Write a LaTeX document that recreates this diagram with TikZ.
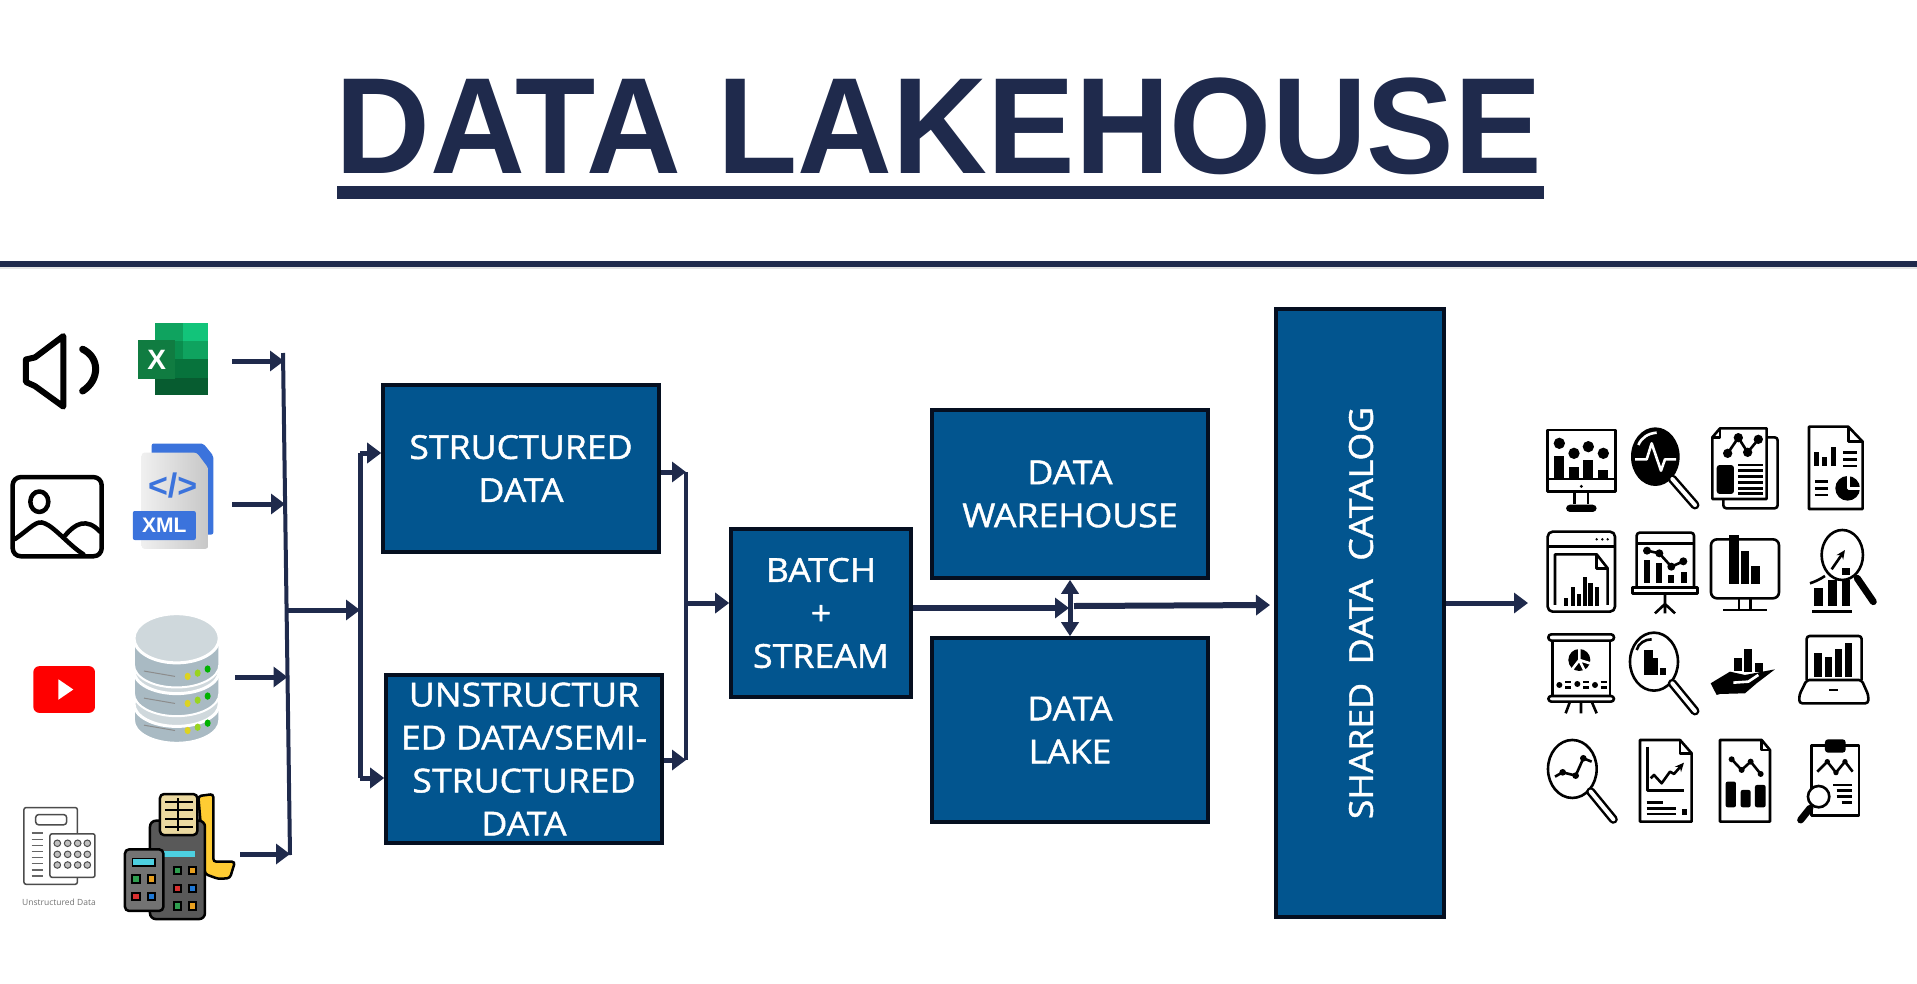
\documentclass[tikz,border=0pt]{standalone}
\usepackage{fontspec}
\setsansfont{Open Sans}
\newfontfamily\titlefont{Liberation Sans}
\newfontfamily\boxfont[FakeBold=1.3,FakeStretch=1.08]{Open Sans}
\usetikzlibrary{arrows.meta, positioning}
\definecolor{navyline}{HTML}{1F2A4C}
\definecolor{boxblue}{HTML}{02558F}
\definecolor{boxedge}{HTML}{050F20}
\definecolor{dbgray}{HTML}{A9BAC3}
\definecolor{dblight}{HTML}{CFD8DC}
\definecolor{papertan}{HTML}{EBD9A0}
\definecolor{rollyellow}{HTML}{FFCC33}
\definecolor{keycyan}{HTML}{4DD0E1}
\definecolor{keygreen}{HTML}{2E9E4F}
\definecolor{keyyellow}{HTML}{E8A020}
\definecolor{keyred}{HTML}{D83030}
\definecolor{keyblue}{HTML}{1E78D5}
\definecolor{xmlblue}{HTML}{3B73DC}
\definecolor{xlone}{HTML}{12C47A}
\definecolor{xltwo}{HTML}{0FA35F}
\definecolor{xlthree}{HTML}{0A8E4E}
\definecolor{xlfour}{HTML}{07733C}
\definecolor{xlfive}{HTML}{075C30}
\definecolor{xlmark}{HTML}{107C41}

\newcommand{\iconbars}[1]{\foreach \xa/\ya/\xb/\yb in {#1} {\fill (\xa,\ya) rectangle (\xb,\yb);}}
\newcommand{\icondots}[2]{\foreach \cx/\cy in {#2} {\fill (\cx,\cy) circle[radius=#1];}}
\newcommand{\iconrules}[3]{\foreach \ry in {#1} {\draw (#2,\ry) -- (#3,\ry);}}
\newcommand{\iconhandle}[2]{\draw[line width=9pt, line cap=round] #1 -- #2; \draw[white, line width=4pt, line cap=round] #1 -- #2;}

\begin{document}
\begin{tikzpicture}[
    x=1pt, y=-1pt,
    databox/.style = {rectangle, draw=boxedge, fill=boxblue, line width=3.6pt, align=center, text=white, inner sep=0pt, font=\boxfont\fontsize{33}{43}\selectfont},
    arrow/.style = {draw=navyline, -{Triangle[length=14pt,width=20pt]}, line width=5pt},
    fatarrow/.style = {draw=navyline, -{Triangle[length=14pt,width=20pt]}, line width=6pt},
    busline/.style = {draw=navyline, line width=4pt},
    iconline/.style = {line width=2.6pt, line join=round},
    boldline/.style = {line width=6pt, line join=round, line cap=round}
]
\useasboundingbox (0,0) rectangle (1917,983);
\fill[white] (0,0) rectangle (1917,983);

% Title and header rule
\node (title) [font=\titlefont\bfseries\fontsize{137}{137}\selectfont, text=navyline, inner sep=0pt, xscale=0.959] at (939,126) {DATA LAKEHOUSE};
\coordinate (ulineleft) at (337,192.5);
\coordinate (ulineright) at (1544,192.5);
\draw [navyline, line width=13pt] (ulineleft) -- (ulineright);
\coordinate (ruleleft) at (0,263.5);
\coordinate (ruleright) at (1917,263.5);
\draw [black!10, line width=4pt] ([yshift=-3pt]ruleleft) -- ([yshift=-3pt]ruleright);
\draw [navyline, line width=6pt] (ruleleft) -- (ruleright);

% Boxes
\node (structured) [databox, minimum width=276pt, minimum height=167pt] at (521,468.5) {STRUCTURED\\DATA};
\node (unstructured) [databox, minimum width=276pt, minimum height=168pt] at (524,759) {UNSTRUCTUR\\ED DATA/SEMI-\\STRUCTURED\\DATA};
\node (batch) [databox, minimum width=180pt, minimum height=168pt] at (821,613) {BATCH\\+\\STREAM};
\node (warehouse) [databox, minimum width=276pt, minimum height=168pt] at (1070,494) {DATA\\WAREHOUSE};
\node (lake) [databox, minimum width=276pt, minimum height=184pt] at (1070,730) {DATA\\LAKE};
\node (catalog) [databox, minimum width=168pt, minimum height=608pt] at (1360,613) {};
\node (catalogtext) [font=\boxfont\fontsize{33}{43}\selectfont, text=white, rotate=90, inner sep=0pt] at (1361,613) {SHARED\ \ DATA\ \ CATALOG};

% Input buses
\coordinate (src1) at (232,361);
\coordinate (src2) at (232,504);
\coordinate (src3) at (235,677);
\coordinate (src4) at (240,854);
\coordinate (bustop) at (283,353);
\coordinate (busbot) at (290,855);
\coordinate (busa) at (284,361);
\coordinate (busb) at (285,504);
\coordinate (busc) at (287.5,677);
\coordinate (busd) at (290,854);
\coordinate (busmid) at (287,610);
\coordinate (forkmid) at (360,610);
\coordinate (forktop) at (360,453);
\coordinate (forkbot) at (360,778);
\coordinate (joinmid) at (686,603);
\coordinate (jointop) at (686,472);
\coordinate (joinbot) at (686,760);

\draw [busline] (bustop) -- (busbot);
\draw [arrow] (src1) -- (busa);
\draw [arrow] (src2) -- (busb);
\draw [arrow] (src3) -- (busc);
\draw [arrow] (src4) -- (busd);
\draw [arrow] (busmid) -- (forkmid);
\draw [busline, line width=5pt] (forktop) -- (forkbot);
\draw [arrow] (forktop) -- (forktop -| structured.west);
\draw [arrow] (forkbot) -- (forkbot -| unstructured.west);

\draw [busline] (jointop) -- (joinbot);
\draw [arrow] (jointop -| structured.east) -- (jointop);
\draw [arrow] (joinbot -| unstructured.east) -- (joinbot);
\draw [arrow] (joinmid) -- (joinmid -| batch.west);

% Storage connections
\coordinate (split) at (1069,608);
\coordinate (splitout) at (1074,606);
\coordinate (catalogin) at (1270,605);
\draw [fatarrow] (batch.east |- split) -- (split);
\draw [draw=navyline, {Triangle[length=14pt,width=17pt]}-{Triangle[length=14pt,width=17pt]}, line width=5pt] (warehouse.south) -- (lake.north);
\draw [fatarrow] (splitout) -- (catalogin);
\coordinate (output) at (1528,603);
\draw [arrow] (catalog.east |- output) -- (output);

% Source icons, in a squeezed grid
\begin{scope}[shift={(0,300)}, x=0.3333pt, y=-0.41pt]
% speaker
\draw[boldline] (190,88) -- (105,140) -- (78,145) -- (78,200) -- (105,210) -- (190,260) -- cycle;
\draw[boldline, line width=7pt] (248,120) .. controls (300,140) and (300,195) .. (248,222);
% excel
\fill[xltwo] (465,57) rectangle (548,100);
\fill[xlone] (548,57) rectangle (625,100);
\fill[xlthree] (465,100) rectangle (548,145);
\fill[xltwo] (548,100) rectangle (625,145);
\fill[xlfour] (465,145) rectangle (548,232);
\fill[xlfour] (548,145) rectangle (625,190);
\fill[xlfive] (465,190) rectangle (625,232);
\node (excelmark) [fill=xlmark, minimum width=37pt, minimum height=39pt, inner sep=0pt, text=white, font=\titlefont\bfseries\fontsize{28}{28}\selectfont] at (470,145) {X};
% picture
\draw[boldline, line width=4.5pt, rounded corners=8pt] (38,432) rectangle (305,625);
\draw[boldline, line width=4.5pt] (118,492) ellipse [x radius=27, y radius=25];
\draw[boldline, line width=4.5pt] (45,583) .. controls (95,555) and (110,535) .. (135,545) .. controls (165,555) and (210,600) .. (250,620);
\draw[boldline, line width=4.5pt] (195,575) .. controls (225,545) and (260,530) .. (300,565);
% xml
\fill[xmlblue, rounded corners=2pt] (455,350) -- (610,350) -- (640,380) -- (640,572) -- (455,572) -- cycle;
\shade[left color=black!6, right color=black!22, rounded corners=3pt] (425,372) -- (590,372) -- (625,410) -- (625,607) -- (425,607) -- cycle;
\node (xmltag) [text=xmlblue, inner sep=0pt, font=\titlefont\bfseries\fontsize{34}{34}\selectfont] at (518,452) {</>};
\node (xmlbadge) [fill=xmlblue, rounded corners=2pt, text=white, minimum width=63pt, minimum height=29pt, inner sep=0pt, font=\titlefont\bfseries\fontsize{21}{21}\selectfont] at (493,550) {XML};
% video
\fill[red, rounded corners=6pt] (100,893) rectangle (285,1007);
\fill[white] (175,925) -- (220,950) -- (175,975) -- cycle;
% database
\foreach \cy/\hgt in {985/40, 905/55, 825/65} {
  \fill[dbgray, draw=white, line width=2pt] (402,\cy) -- (402,\cy+\hgt) arc[start angle=180, end angle=360, x radius=128, y radius=-55] -- (658,\cy) -- cycle;
  \fill[dblight, draw=white, line width=3pt] (530,\cy) ellipse [x radius=128, y radius=55];
}
\fill[dblight, draw=white, line width=3pt] (530,825) ellipse [x radius=128, y radius=60];
\foreach \dy in {0,66,132} {
  \fill[yellow!85!black] (563,918+\dy) ellipse [x radius=9, y radius=9];
  \fill[yellow!60!green] (593,910+\dy) ellipse [x radius=9, y radius=9];
  \fill[green!70!black] (623,900+\dy) ellipse [x radius=9, y radius=9];
  \draw[black!45, line width=1pt] (432,905+\dy) -- (525,918+\dy);
}
% form
\draw[black!70, line width=1.5pt, rounded corners=2pt, fill=white] (72,1238) rectangle (232,1425);
\draw[black!70, line width=1.5pt, rounded corners=3pt] (107,1255) rectangle (200,1280);
\foreach \ly in {1300,1315,...,1405} {\draw[black!60, line width=1.3pt] (95,\ly) -- (130,\ly);}
\draw[black!70, line width=1.5pt, fill=white, rounded corners=2pt] (150,1302) rectangle (285,1408);
\foreach \ly in {1325,1352,1378} {
  \foreach \lx in {172,203,233,262} {\draw[black!70, fill=black!25, line width=1pt] (\lx,\ly) ellipse [x radius=10, y radius=8];}
}
\node (formcaption) [text=black!55, inner sep=0pt, font=\sffamily\fontsize{8.5}{9}\selectfont] at (177,1470) {Unstructured Data};
% till
\draw[line width=2.5pt, fill=rollyellow, rounded corners=3pt] (595,1210) -- (640,1205) -- (640,1370) -- (705,1370) -- (690,1410) -- (655,1412) -- (615,1400) -- cycle;
\draw[line width=2.5pt, fill=black!65, rounded corners=6pt] (450,1270) rectangle (615,1510);
\draw[line width=2.5pt, fill=papertan, rounded corners=4pt] (480,1205) rectangle (592,1305);
\foreach \ly in {1225,1245,1265,1285} {\draw[line width=2pt] (495,\ly) -- (578,\ly);}
\draw[line width=2pt] (535,1215) -- (535,1295);
\fill[keycyan] (492,1345) rectangle (585,1358);
\foreach \kx/\ky/\kc in {533/1392/keygreen, 578/1392/keyyellow, 533/1435/keyred, 578/1435/keyblue, 533/1478/keygreen, 578/1478/keyyellow} {
  \draw[line width=2pt, fill=\kc] (\kx-10,\ky-9) rectangle (\kx+10,\ky+9);
}
\draw[line width=2.5pt, fill=black!55, rounded corners=4pt] (375,1340) rectangle (490,1490);
\draw[line width=1.5pt, fill=keycyan] (397,1362) rectangle (465,1380);
\foreach \kx/\ky/\kc in {408/1412/keygreen, 455/1412/keyyellow, 408/1455/keyred, 455/1455/keyblue} {
  \draw[line width=2pt, fill=\kc] (\kx-11,\ky-9) rectangle (\kx+11,\ky+9);
}
\end{scope}

% Report icons, in a 3x grid
\begin{scope}[shift={(1500,400)}, x=0.3333pt, y=-0.3333pt, iconline]
% row 1
\draw (142,90) rectangle (346,275);
\draw (142,237) -- (346,237);
\icondots{17}{178/130, 222/160, 265/140, 310/160}
\iconbars{163/168/193/237, 207/200/237/237, 250/180/280/237, 295/210/325/237}
\icondots{5}{244/259}
\draw (224,275) -- (224,312) (264,275) -- (264,312);
\fill[rounded corners=4pt] (198,336) rectangle (290,314);

\fill (466,170) ellipse [x radius=73, y radius=88];
\draw[white] (405,178) -- (440,178) -- (455,130) -- (483,212) -- (495,178) -- (528,178);
\draw[white] (415,135) .. controls (425,112) and (445,100) .. (470,98);
\iconhandle{(517,237)}{(585,315)}

\draw[rounded corners=3pt] (670,112) -- (833,112) -- (833,325) -- (670,325) -- cycle;
\draw[fill=white] (660,85) -- (800,85) -- (800,297) -- (637,297) -- (637,112) -- cycle;
\draw (660,85) -- (660,112) -- (637,112);
\draw (683,160) -- (715,113) -- (743,157) -- (775,118);
\icondots{14}{683/160, 715/113, 743/157, 775/118}
\fill[rounded corners=3pt] (650,195) rectangle (702,282);
\iconrules{195,212,230,248,265,280}{715}{788}

\draw (927,80) -- (1045,80) -- (1088,125) -- (1088,327) -- (927,327) -- cycle;
\draw (1045,80) -- (1045,125) -- (1088,125);
\iconbars{943/155/958/198, 967/170/980/198, 992/140/1007/198}
\iconrules{158,178,198}{1030}{1070}
\iconrules{245,265,285}{945}{985}
\icondots{37}{1043/265}
\draw[white] (1045,228) -- (1045,265) -- (1082,265);

% row 2
\draw[rounded corners=5pt] (143,395) rectangle (345,635);
\draw (143,440) -- (345,440);
\icondots{4}{290/418, 307/418, 323/418}
\draw (165,615) -- (165,463) -- (290,463) -- (323,505) -- (323,615);
\draw (290,463) -- (290,505) -- (323,505);
\iconbars{193/595/205/618, 212/562/225/618, 232/582/243/618, 248/530/260/618, 265/550/278/618, 285/562/297/618}

\draw[rounded corners=3pt] (410,562) -- (410,398) -- (582,398) -- (582,562);
\draw (410,430) -- (582,430);
\draw (398,562) rectangle (592,580);
\draw (495,580) -- (495,612) -- (465,640) (495,612) -- (525,640) (495,612) -- (495,640);
\iconbars{432/480/450/548, 468/490/487/548, 505/525/523/548, 542/515/560/548}
\draw (441,452) -- (478,460) -- (514,500) -- (550,484);
\icondots{12}{441/452, 478/460, 514/500, 550/484}

\draw[rounded corners=6pt] (633,418) rectangle (837,595);
\iconbars{686/405/718/552, 722/452/748/552, 752/498/780/552}
\draw (717,595) -- (717,628) (752,595) -- (752,628);
\draw (670,630) -- (800,630);

\draw (1027,465) ellipse [x radius=62, y radius=75];
\draw[line width=7pt, line cap=round] (1072,535) -- (1120,605);
\iconbars{943/565/970/618, 983/540/1010/618, 1025/540/1050/618, 1025/503/1050/525}
\draw (930,550) .. controls (945,545) and (960,538) .. (975,528);
\draw (937,635) -- (1055,635);
\draw[-{Stealth[length=9pt,width=8pt]}] (995,508) -- (1035,450);

% row 3
\draw[rounded corners=3pt] (145,703) rectangle (342,722);
\draw[rounded corners=3pt] (145,888) rectangle (342,905);
\draw (157,722) -- (157,888) (330,722) -- (330,888);
\icondots{33}{238/780}
\draw[white] (238,740) -- (238,780) -- (270,790) (238,780) -- (215,810) (238,780) -- (255,815);
\icondots{9}{178/855, 232/852, 285/855}
\foreach \lx in {195,250,302} {\draw (\lx,846) -- (\lx+18,846) (\lx,862) -- (\lx+18,862);}
\draw (210,905) -- (197,940) (243,905) -- (243,940) (275,905) -- (290,940);

\draw (462,785) ellipse [x radius=72, y radius=87];
\iconhandle{(517,850)}{(585,933)}
\iconbars{433/750/458/825, 460/775/475/825, 480/805/497/825}
\draw (410,750) .. controls (415,730) and (435,718) .. (455,718);

\iconbars{702/775/725/812, 732/748/757/815, 765/790/788/815}
\fill (632,850) -- (690,815) -- (735,825) -- (825,808) -- (770,850) -- (735,880) -- (660,882) -- (650,885) -- cycle;
\draw[white] (700,848) -- (745,845) -- (775,825);

\draw[rounded corners=3pt] (920,840) -- (920,708) -- (1085,708) -- (1085,840);
\draw[rounded corners=3pt] (920,840) -- (898,885) -- (898,910) -- (1105,910) -- (1105,885) -- (1085,840) -- cycle;
\draw (988,870) -- (1013,870);
\iconbars{943/760/967/830, 975/772/997/830, 1005/748/1027/830, 1035/728/1057/830}

% row 4
\draw (217,1107) ellipse [x radius=73, y radius=87];
\iconhandle{(272,1175)}{(340,1258)}
\draw (165,1130) -- (188,1117) -- (227,1127) -- (250,1075) -- (275,1085);
\icondots{10}{188/1117, 227/1127, 250/1075}

\draw (420,1020) -- (540,1020) -- (575,1060) -- (575,1265) -- (420,1265) -- cycle;
\draw (540,1020) -- (540,1060) -- (575,1060);
\draw (442,1040) -- (442,1172) -- (552,1172);
\draw[-{Stealth[length=9pt,width=8pt]}] (452,1135) -- (462,1125) -- (485,1150) -- (510,1115) -- (522,1122) -- (552,1088);
\iconrules{1208}{440}{490}
\iconrules{1225,1242}{440}{528}
\iconbars{545/1228/560/1245}

\draw (660,1020) -- (785,1020) -- (810,1050) -- (810,1265) -- (660,1265) -- cycle;
\draw (785,1020) -- (785,1050) -- (810,1050);
\draw (695,1078) -- (725,1110) -- (752,1085) -- (782,1122);
\icondots{9}{695/1078, 725/1110, 752/1085, 782/1122}
\fill[rounded corners=2pt] (677,1145) rectangle (708,1222);
\fill[rounded corners=2pt] (722,1170) rectangle (752,1222);
\fill[rounded corners=2pt] (765,1155) rectangle (797,1222);

\draw (935,1037) rectangle (1077,1247);
\fill[rounded corners=3pt] (975,1018) rectangle (1037,1058);
\draw (952,1115) -- (982,1085) -- (1008,1118) -- (1035,1085) -- (1058,1115);
\icondots{8}{982/1085, 1008/1118, 1035/1085}
\iconrules{1155}{1000}{1055}
\iconrules{1172,1190}{1010}{1055}
\iconrules{1207}{1025}{1055}
\draw[fill=white] (956,1190) circle[radius=32];
\draw[line width=7pt, line cap=round] (930,1225) -- (902,1260);
\end{scope}

\end{tikzpicture}
\end{document}
